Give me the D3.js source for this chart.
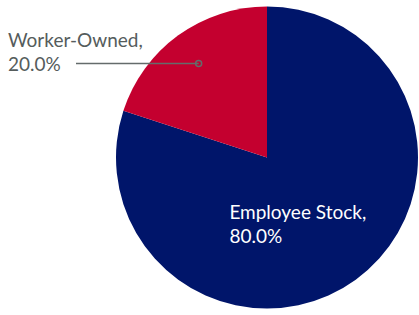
<!DOCTYPE html>
<html>
<head>
<meta charset="utf-8">
<script src="https://cdn.jsdelivr.net/npm/d3@7"></script>
<style>
  body { margin: 0; background: #fff; }
  svg text { font-family: Lato, "Open Sans", sans-serif; }
</style>
</head>
<body>
<svg id="chart" width="419" height="315"></svg>
<script>
// pie data
const categories = ['Employee Stock', 'Worker-Owned'];
const values = [80.0, 20.0];
const colors = ['#00156a', '#c4002f'];

const svg = d3.select('#chart'),
  width = +svg.attr('width'),
  height = +svg.attr('height'),
  radius = 151,
  cx = 267,
  cy = 157.5;

const data = categories.map(function (c, i) {
  return {name: c, value: values[i], color: colors[i]};
});

const pie = d3.pie().sort(null).value(function (d) { return d.value; });
const arcs = pie(data);

const arc = d3.arc().innerRadius(0).outerRadius(radius);

const g = svg.append('g').attr('transform', 'translate(' + cx + ',' + cy + ')');

g.selectAll('path.slice')
  .data(arcs)
  .enter().append('path')
  .attr('class', 'slice')
  .attr('d', arc)
  .attr('fill', function (d) { return d.data.color; });

const fmt = function (v) { return d3.format('.1f')(v) + '%'; };

// inside label (Employee Stock)
const inner = d3.arc().innerRadius(radius * 0.5).outerRadius(radius * 0.5);
const c0 = inner.centroid(arcs[0]);
const t0 = g.append('text')
  .attr('fill', '#fff')
  .attr('font-size', 19)
  .attr('x', c0[0] - 82)
  .attr('y', c0[1]);
t0.append('tspan').attr('x', c0[0] - 82).text(arcs[0].data.name + ',');
t0.append('tspan').attr('x', c0[0] - 82).attr('dy', 24).text(fmt(arcs[0].data.value));

// outside label with leader (Worker-Owned)
const lead = d3.arc().innerRadius(radius * 0.77).outerRadius(radius * 0.77);
const c1 = lead.centroid(arcs[1]);
const labelX = 8 - cx;

g.append('line')
  .attr('x1', labelX + 68)
  .attr('x2', c1[0])
  .attr('y1', c1[1])
  .attr('y2', c1[1])
  .attr('stroke', '#646b6b')
  .attr('stroke-width', 1.5);

g.append('circle')
  .attr('cx', c1[0])
  .attr('cy', c1[1])
  .attr('r', 3)
  .attr('fill', 'none')
  .attr('stroke', '#646b6b')
  .attr('stroke-width', 1.5);

const t1 = g.append('text')
  .attr('fill', '#555c5c')
  .attr('font-size', 19)
  .attr('y', c1[1] - 16);
t1.append('tspan').attr('x', labelX).text(arcs[1].data.name + ',');
t1.append('tspan').attr('x', labelX).attr('dy', 24).text(fmt(arcs[1].data.value));
</script>
</body>
</html>
